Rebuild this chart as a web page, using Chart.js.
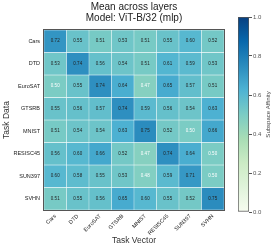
<!DOCTYPE html>
<html>
<head>
<meta charset="utf-8">
<script src="https://cdn.jsdelivr.net/npm/chart.js@4.4.1/dist/chart.umd.min.js"></script>
<style>
  html, body { margin: 0; padding: 0; background: #fff; }
  #wrap { position: relative; width: 274px; height: 250px; overflow: hidden; }
  #main { position: absolute; left: 0; top: 0; }
  #cbar { position: absolute; left: 234px; top: 0; }
</style>
</head>
<body>
<div id="wrap">
  <canvas id="main" width="268" height="250"></canvas>
  <canvas id="cbar" width="40" height="250"></canvas>
</div>
<script>
// ---- Data ----
const taskVectors = ['Cars', 'DTD', 'EuroSAT', 'GTSRB', 'MNIST', 'RESISC45', 'SUN397', 'SVHN'];
const taskData = ['Cars', 'DTD', 'EuroSAT', 'GTSRB', 'MNIST', 'RESISC45', 'SUN397', 'SVHN'];

const carsRow     = [0.72, 0.55, 0.51, 0.53, 0.51, 0.55, 0.60, 0.52];
const dtdRow      = [0.53, 0.74, 0.56, 0.54, 0.51, 0.61, 0.59, 0.53];
const eurosatRow  = [0.50, 0.55, 0.74, 0.64, 0.47, 0.65, 0.57, 0.51];
const gtsrbRow    = [0.55, 0.56, 0.57, 0.74, 0.59, 0.56, 0.54, 0.63];
const mnistRow    = [0.51, 0.54, 0.54, 0.63, 0.75, 0.52, 0.50, 0.66];
const resisc45Row = [0.56, 0.60, 0.66, 0.52, 0.47, 0.74, 0.64, 0.50];
const sun397Row   = [0.60, 0.58, 0.55, 0.53, 0.48, 0.59, 0.71, 0.50];
const svhnRow     = [0.51, 0.55, 0.56, 0.65, 0.60, 0.55, 0.52, 0.75];
const rows = [carsRow, dtdRow, eurosatRow, gtsrbRow, mnistRow, resisc45Row, sun397Row, svhnRow];

const colorbarTicks = [0, 0.2, 0.4, 0.6, 0.8, 1.0];

// ---- Colormap (GnBu) ----
const gnbu = ['#f7fcf0','#e0f3db','#ccebc5','#a8ddb5','#7bccc4','#4eb3d3','#2b8cbe','#0868ac','#084081'];
function hex2rgb(h) { return [parseInt(h.slice(1,3),16), parseInt(h.slice(3,5),16), parseInt(h.slice(5,7),16)]; }
function cmap(v) {
  const t = Math.max(0, Math.min(1, v)) * 8;
  const i = Math.min(7, Math.floor(t));
  const f = t - i;
  const a = hex2rgb(gnbu[i]), b = hex2rgb(gnbu[i+1]);
  const c = a.map((x, k) => Math.round(x + (b[k] - x) * f));
  return `rgb(${c[0]},${c[1]},${c[2]})`;
}

const FONT = "'Liberation Sans', Arial, sans-serif";

// ---- Heatmap ----
const datasets = rows.map((row, j) => ({
  label: taskData[j],
  data: row.map(() => [j, j + 1]),
  values: row,
  backgroundColor: row.map(v => cmap(v)),
  borderColor: 'rgba(255,255,255,0.55)',
  borderWidth: 0.5,
  borderSkipped: false,
  categoryPercentage: 1,
  barPercentage: 1,
  grouped: false
}));

const cellLabels = {
  id: 'cellLabels',
  afterDatasetsDraw(chart) {
    const ctx = chart.ctx;
    ctx.save();
    ctx.font = `4.5px ${FONT}`;
    ctx.textAlign = 'center';
    ctx.textBaseline = 'middle';
    chart.data.datasets.forEach((ds, j) => {
      const meta = chart.getDatasetMeta(j);
      meta.data.forEach((el, i) => {
        const v = ds.values[i];
        ctx.fillStyle = v <= 0.505 ? '#ffffff' : '#222222';
        ctx.fillText(v.toFixed(2), el.x, (el.y + el.base) / 2);
      });
    });
    const a = chart.chartArea;
    ctx.strokeStyle = '#555';
    ctx.lineWidth = 1;
    ctx.strokeRect(Math.round(a.left) - 0.5, Math.round(a.top) - 0.5, Math.round(a.right - a.left) + 1, Math.round(a.bottom - a.top) + 1);
    ctx.restore();
  }
};

new Chart(document.getElementById('main'), {
  type: 'bar',
  data: { labels: taskVectors, datasets },
  options: {
    responsive: false,
    animation: false,
    layout: { padding: 0 },
    plugins: {
      legend: { display: false },
      tooltip: { enabled: false },
      title: {
        display: true,
        text: ['Mean across layers', 'Model: ViT-B/32 (mlp)'],
        color: '#222',
        font: { family: FONT, size: 10, weight: 'normal', lineHeight: 1.1 },
        padding: { top: 2, bottom: 6 }
      }
    },
    scales: {
      x: {
        type: 'category',
        grid: { display: false, drawTicks: false },
        border: { display: false },
        ticks: {
          autoSkip: false, maxRotation: 45, minRotation: 45, padding: 3,
          color: '#222', font: { family: FONT, size: 5.5 }
        },
        title: {
          display: true, text: 'Task Vector', color: '#333',
          font: { family: FONT, size: 8.5 }, padding: { top: 0, bottom: 4 }
        },
        afterFit(s) { s.height = 40; }
      },
      y: {
        type: 'linear', min: 0, max: 8, reverse: true,
        grid: { display: false, drawTicks: false },
        border: { display: false },
        afterBuildTicks(s) { s.ticks = taskData.map((_, j) => ({ value: j + 0.5 })); },
        ticks: {
          padding: 4, color: '#222', font: { family: FONT, size: 5.5 },
          callback: v => taskData[Math.floor(v)]
        },
        title: {
          display: true, text: 'Task Data', color: '#333',
          font: { family: FONT, size: 8.5 }, padding: { top: 2, bottom: 0 }
        },
        afterFit(s) { s.width = 44; }
      },
      y2: {
        type: 'linear', position: 'right', display: true,
        grid: { display: false, drawTicks: false },
        border: { display: false },
        ticks: { display: false },
        afterFit(s) { s.width = 44; }
      }
    }
  },
  plugins: [cellLabels]
});

// ---- Colorbar ----
const cbarTitle = {
  id: 'cbarTitle',
  afterDraw(chart) {
    const ctx = chart.ctx;
    const a = chart.chartArea;
    ctx.save();
    ctx.font = `6px ${FONT}`;
    ctx.fillStyle = '#444';
    ctx.textAlign = 'center';
    ctx.textBaseline = 'middle';
    ctx.translate(34, (a.top + a.bottom) / 2);
    ctx.rotate(-Math.PI / 2);
    ctx.fillText('Subspace Affinity', 0, 0);
    ctx.restore();
  }
};

new Chart(document.getElementById('cbar'), {
  type: 'bar',
  data: {
    labels: [''],
    datasets: [{
      data: [[0, 1]],
      backgroundColor(c) {
        const ch = c.chart, a = ch.chartArea;
        if (!a) return gnbu[4];
        const g = ch.ctx.createLinearGradient(0, a.bottom, 0, a.top);
        gnbu.forEach((col, i) => g.addColorStop(i / 8, col));
        return g;
      },
      borderColor: '#555',
      borderWidth: 1,
      borderSkipped: false,
      categoryPercentage: 1,
      barPercentage: 1
    }]
  },
  options: {
    responsive: false,
    animation: false,
    layout: { padding: { left: 4, top: 17, bottom: 38, right: 0 } },
    plugins: { legend: { display: false }, tooltip: { enabled: false }, title: { display: false } },
    scales: {
      x: { display: false },
      y: {
        position: 'right', min: 0, max: 1,
        afterBuildTicks(s) { s.ticks = colorbarTicks.map(v => ({ value: v })); },
        grid: { drawOnChartArea: false, drawTicks: true, tickLength: 3, color: '#555' },
        border: { display: false },
        ticks: { padding: 1, color: '#555', font: { family: FONT, size: 6 }, callback: v => v.toFixed(1) },
        afterFit(s) { s.width = 25; }
      }
    }
  },
  plugins: [cbarTitle]
});
</script>
</body>
</html>
